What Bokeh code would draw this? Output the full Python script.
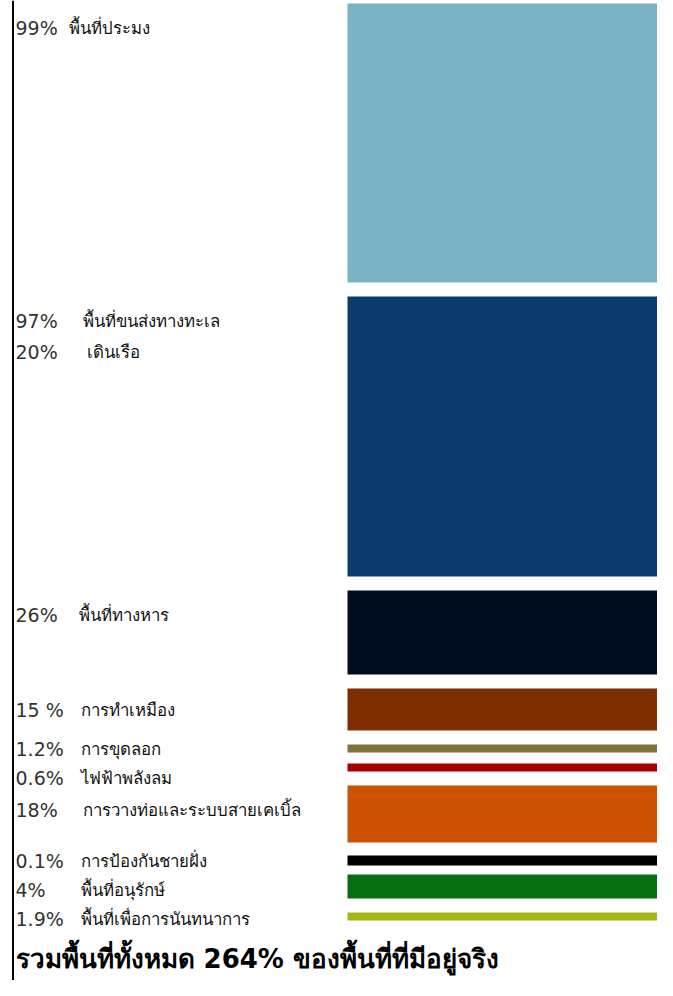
from bokeh.plotting import figure
from bokeh.models import Range1d, ColumnDataSource, Span
from bokeh.embed import file_html
from bokeh.resources import INLINE
from bokeh.core.properties import value

# ---- data ----
categories = ["พื้นที่ประมง", "พื้นที่ขนส่งทางทะเล", "พื้นที่ทางหาร", "การทำเหมือง",
              "การขุดลอก", "ไฟฟ้าพลังลม", "การวางท่อและระบบสายเคเบิ้ล",
              "การป้องกันชายฝั่ง", "พื้นที่อนุรักษ์", "พื้นที่เพื่อการนันทนาการ"]
pct_labels = ["99%", "97%", "26%", "15 %", "1.2%", "0.6%", "18%", "0.1%", "4%", "1.9%"]
shares = [99, 97, 26, 15, 1.2, 0.6, 18, 0.1, 4, 1.9]
sub_category = "เดินเรือ"
sub_label = "20%"
total_text = "รวมพื้นที่ทั้งหมด 264% ของพื้นที่ที่มีอยู่จริง"

# ---- drawn band sizes as shown in the picture (not proportional) ----
band_size = [279, 280, 84, 42, 8, 8, 57, 10, 24, 8]

# ---- layout / style ----
gap_before = [0, 14, 14, 14, 14, 11, 14, 13, 9, 14]
start_y = 3
colors = ["#7AB3C5", "#0B3A70", "#000C22", "#7E2E00", "#7D733E",
          "#A80000", "#CC5200", "#000000", "#057012", "#A8B715"]
name_x = [68, 82, 78, 80, 80, 80, 82, 80, 80, 80]

tops, bottoms = [], []
cur = start_y
for g, s in zip(gap_before, band_size):
    cur += g
    tops.append(cur)
    bottoms.append(cur + s)
    cur += s

label_y = []
prev = -1e9
for t, b in zip(tops, bottoms):
    y = max(min(t + 24, (t + b) / 2), prev + 29)
    label_y.append(y)
    prev = y

W, H = 657, 980
p = figure(width=W, height=H, x_range=Range1d(0, W), y_range=Range1d(H, 0),
           output_backend="svg", toolbar_location=None, min_border=0)
p.axis.visible = False
p.grid.visible = False
p.outline_line_color = None
p.background_fill_color = "white"
p.border_fill_color = "white"

src = ColumnDataSource(dict(top=tops, bottom=bottoms, color=colors,
                            pct=pct_labels, name=categories, ly=label_y,
                            nx=name_x, px=[15] * len(tops)))
p.quad(left=347, right=720, top="top", bottom="bottom", fill_color="color",
       line_color=None, source=src)

p.add_layout(Span(location=12.5, dimension="height", line_color="black", line_width=2))

pct_font = dict(text_font=value("DejaVu Sans"), text_font_size="19px", text_color="#333333")
name_font = dict(text_font=value("Noto Sans"), text_font_size="16.8px", text_color="#111111")

p.text(x="px", y="ly", text="pct", source=src, text_baseline="middle", **pct_font)
p.text(x="nx", y="ly", text="name", source=src, text_baseline="middle", **name_font)

p.text(x=[15], y=[label_y[1] + 31], text=[sub_label], text_baseline="middle", **pct_font)
p.text(x=[86], y=[label_y[1] + 31], text=[sub_category], text_baseline="middle", **name_font)

p.text(x=[15], y=[958], text=[total_text], text_baseline="alphabetic",
       text_font=value("DejaVu Sans"), text_font_size="26px", text_font_style="bold",
       text_color="#000000")

open("out.html", "w").write(file_html(p, INLINE))
